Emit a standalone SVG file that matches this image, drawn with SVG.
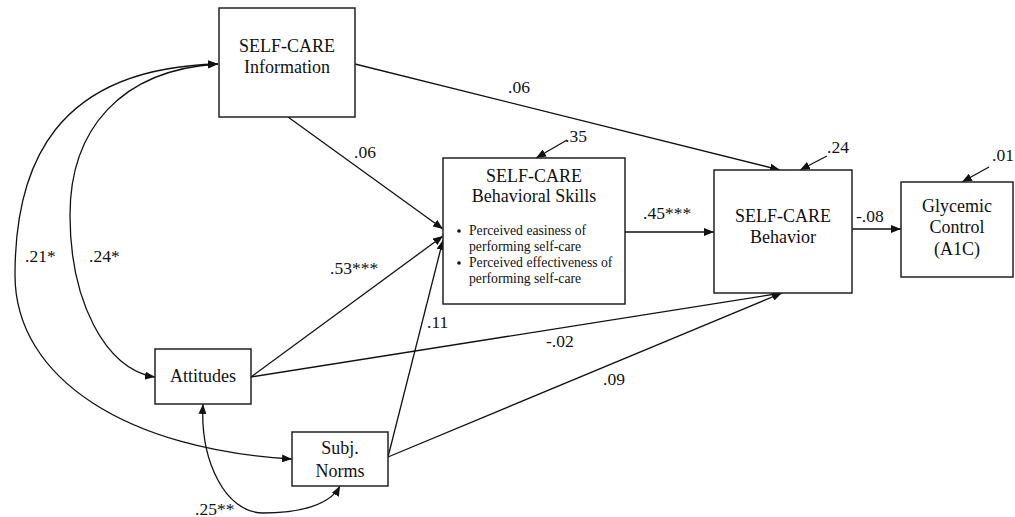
<svg xmlns="http://www.w3.org/2000/svg" width="1015" height="517" viewBox="0 0 1015 517">
<style>
.box{fill:#fff;stroke:#222;stroke-width:1.5}
text{font-family:"Liberation Serif","Times New Roman",serif;fill:#111}
.t{font-size:18px;text-anchor:middle}
.s{font-size:13.7px}
.l{font-size:17.5px}
.c{fill:none;stroke:#111;stroke-width:1.3}
</style>
<defs>
<marker id="ah" viewBox="0 0 10 8" refX="10" refY="4" markerWidth="10" markerHeight="8" markerUnits="userSpaceOnUse" orient="auto-start-reverse">
<path d="M0,0 L10,4 L0,8 Z" fill="#111"/>
</marker>
</defs>
<g id="connectors">
<path class="c" d="M355,64 L780,170" marker-end="url(#ah)"/>
<path class="c" d="M288,117 L443,229" marker-end="url(#ah)"/>
<path class="c" d="M251,377 L443,236" marker-end="url(#ah)"/>
<path class="c" d="M251,377 L782,293" marker-end="url(#ah)"/>
<path class="c" d="M388,457 L443,240" marker-end="url(#ah)"/>
<path class="c" d="M388,457 L782,293" marker-end="url(#ah)"/>
<path class="c" d="M625,232 L714,232" marker-end="url(#ah)"/>
<path class="c" d="M852,229 L901,229" marker-end="url(#ah)"/>
<path class="c" d="M567,140 L536,158" marker-end="url(#ah)"/>
<path class="c" d="M827,156 L800,170" marker-end="url(#ah)"/>
<path class="c" d="M989,167 L962,182" marker-end="url(#ah)"/>
<path class="c" d="M218,64 C120,70 70,130 70,215 C70,300 105,370 155,377" marker-start="url(#ah)" marker-end="url(#ah)"/>
<path class="c" d="M218,64 C55,68 15,165 15,275 C15,380 130,450 292,459" marker-start="url(#ah)" marker-end="url(#ah)"/>
<path class="c" d="M203,404 C200,460 225,513 263,513 C300,513 330,505 340,486" marker-start="url(#ah)" marker-end="url(#ah)"/>
</g>
<g id="info">
<rect class="box" x="219" y="8" width="136" height="109"/>
<text class="t" x="287" y="52">SELF-CARE</text>
<text class="t" x="287" y="73">Information</text>
</g>
<g id="skills">
<rect class="box" x="443" y="158" width="182" height="146"/>
<text class="t" x="534" y="182">SELF-CARE</text>
<text class="t" x="534" y="202">Behavioral Skills</text>
<circle cx="459" cy="231" r="1.8" fill="#111"/>
<circle cx="459" cy="263" r="1.8" fill="#111"/>
<text class="s" x="469" y="235">Perceived easiness of</text>
<text class="s" x="469" y="251">performing self-care</text>
<text class="s" x="469" y="267">Perceived effectiveness of</text>
<text class="s" x="469" y="283">performing self-care</text>
</g>
<g id="behavior">
<rect class="box" x="714" y="170" width="138" height="123"/>
<text class="t" x="783" y="222">SELF-CARE</text>
<text class="t" x="783" y="243">Behavior</text>
</g>
<g id="glycemic">
<rect class="box" x="901" y="182" width="112" height="95"/>
<text class="t" x="957" y="212">Glycemic</text>
<text class="t" x="957" y="233">Control</text>
<text class="t" x="957" y="255">(A1C)</text>
</g>
<g id="attitudes">
<rect class="box" x="155" y="349" width="96" height="55"/>
<text class="t" x="203" y="382">Attitudes</text>
</g>
<g id="norms">
<rect class="box" x="292" y="432" width="96" height="54"/>
<text class="t" x="340" y="454">Subj.</text>
<text class="t" x="340" y="477">Norms</text>
</g>
<g id="labels">
<text class="l" x="508" y="93">.06</text>
<text class="l" x="354" y="158">.06</text>
<text class="l" x="330" y="274">.53***</text>
<text class="l" x="427" y="328">.11</text>
<text class="l" x="546" y="347">-.02</text>
<text class="l" x="603" y="385">.09</text>
<text class="l" x="643" y="219">.45***</text>
<text class="l" x="856" y="222">-.08</text>
<text class="l" x="565" y="142">.35</text>
<text class="l" x="827" y="153">.24</text>
<text class="l" x="992" y="161">.01</text>
<text class="l" x="25" y="262">.21*</text>
<text class="l" x="89" y="262">.24*</text>
<text class="l" x="195" y="515">.25**</text>
</g>
</svg>
